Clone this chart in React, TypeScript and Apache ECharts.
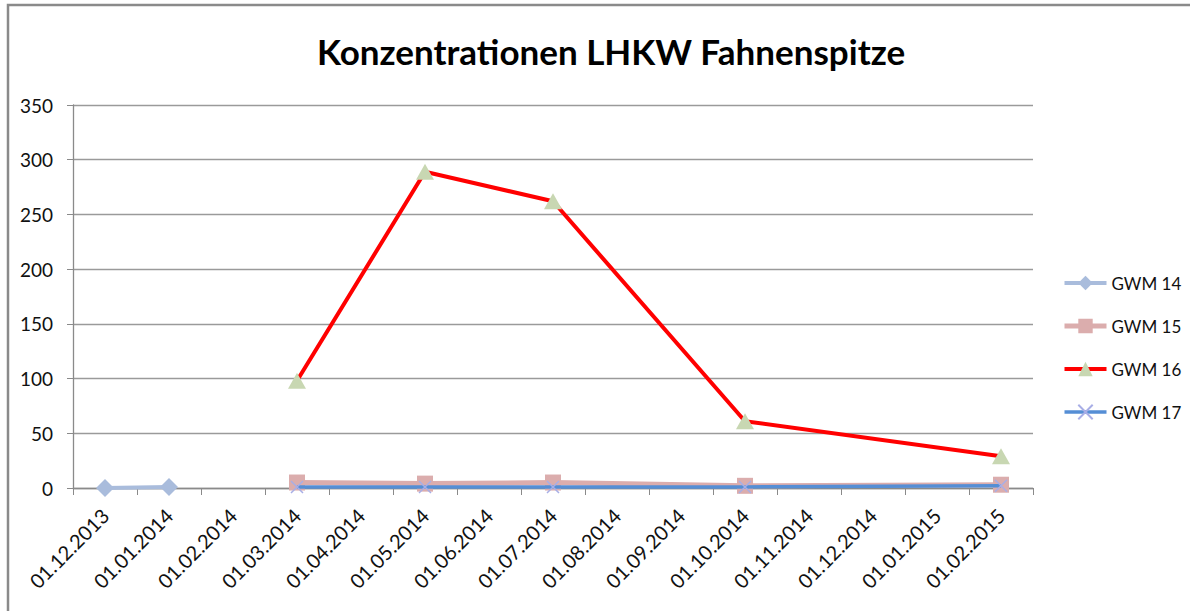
import React, { useEffect, useRef } from "react";
import * as echarts from "echarts";

const categories = [
  "01.12.2013", "01.01.2014", "01.02.2014", "01.03.2014", "01.04.2014",
  "01.05.2014", "01.06.2014", "01.07.2014", "01.08.2014", "01.09.2014",
  "01.10.2014", "01.11.2014", "01.12.2014", "01.01.2015", "01.02.2015",
];
const gwm14 = [0, 1, null, null, null, null, null, null, null, null, null, null, null, null, null];
const gwm15 = [null, null, null, 5, null, 4, null, 5, null, null, 2, null, null, null, 3];
const gwm16 = [null, null, null, 98, null, 289, null, 262, null, null, 61, null, null, null, 29];
const gwm17 = [null, null, null, 1, null, 1, null, 1, null, null, 1, null, null, null, 2];
const seriesNames = ["GWM 14", "GWM 15", "GWM 16", "GWM 17"];
const titleText = "Konzentrationen LHKW Fahnenspitze";

const FONT = "Lato, 'Open Sans', sans-serif";

export default function App() {
  const ref = useRef<HTMLDivElement>(null);
  useEffect(() => {
    if (!ref.current) return;
    const chart = echarts.init(ref.current, undefined, { renderer: "svg" });
    const option: any = {
      animation: false,
      backgroundColor: "#ffffff",
      textStyle: { fontFamily: FONT },
      title: {
        text: titleText,
        left: 312,
        top: 28,
        textStyle: { fontFamily: FONT, fontSize: 35, fontWeight: "bold", color: "#000" },
      },
      graphic: [
        {
          type: "rect",
          shape: { x: 8, y: 5, width: 1200, height: 700 },
          style: { fill: "none", stroke: "#8a8a8a", lineWidth: 2.5 },
          silent: true,
          z: -1,
        },
      ],
      legend: {
        orient: "vertical",
        left: 1062,
        top: 274,
        padding: 0,
        itemWidth: 42,
        itemHeight: 18,
        itemGap: 25,
        data: [
          { name: seriesNames[0], lineStyle: { width: 4 } },
          { name: seriesNames[1], lineStyle: { width: 5 } },
          { name: seriesNames[2], lineStyle: { width: 4 } },
          { name: seriesNames[3], lineStyle: { width: 3.5 } },
        ],
        textStyle: { fontFamily: FONT, fontSize: 17, lineHeight: 18, color: "#111" },
      },
      grid: { left: 73, right: 157, top: 105, bottom: 123, containLabel: false },
      xAxis: {
        type: "category",
        data: categories,
        boundaryGap: true,
        axisLine: { lineStyle: { color: "#8a8a8a", width: 1.3 } },
        axisTick: { show: true, interval: 0, length: 7, lineStyle: { color: "#8a8a8a" } },
        axisLabel: {
          interval: 0,
          rotate: 45,
          fontFamily: FONT,
          fontSize: 20,
          color: "#111",
          margin: 24,
        },
      },
      yAxis: {
        type: "value",
        min: 0,
        max: 350,
        interval: 50,
        axisLine: { show: true, lineStyle: { color: "#8a8a8a", width: 1.3 } },
        axisTick: { show: true, length: 6, lineStyle: { color: "#8a8a8a" } },
        axisLabel: { fontFamily: FONT, fontSize: 19, color: "#111", margin: 20 },
        splitLine: { lineStyle: { color: "#9a9a9a", width: 1.3 } },
      },
      series: [
        {
          name: seriesNames[0],
          type: "line",
          data: gwm14,
          connectNulls: true,
          symbol: "diamond",
          symbolSize: [18, 18],
          lineStyle: { color: "#A9BCDC", width: 4 },
          itemStyle: { color: "#A9BCDC" },
          z: 2,
        },
        {
          name: seriesNames[1],
          type: "line",
          data: gwm15,
          connectNulls: true,
          symbol: "rect",
          symbolSize: 16,
          lineStyle: { color: "#DBADAD", width: 5 },
          itemStyle: { color: "#DBADAD" },
          z: 3,
        },
        {
          name: seriesNames[2],
          type: "line",
          data: gwm16,
          connectNulls: true,
          symbol: "triangle",
          symbolSize: [18, 16],
          lineStyle: { color: "#FF0000", width: 4 },
          itemStyle: { color: "#C8D7B2" },
          z: 4,
        },
        {
          name: seriesNames[3],
          type: "line",
          data: gwm17,
          connectNulls: true,
          symbol: "path://M0,0 L10,10 M10,0 L0,10",
          symbolSize: 12,
          lineStyle: { color: "#558ED5", width: 3.5 },
          itemStyle: { color: "rgba(0,0,0,0)", borderColor: "#A8AEE6", borderWidth: 1.5 },
          z: 5,
        },
      ],
    };
    chart.setOption(option);
    return () => chart.dispose();
  }, []);
  return (
    <div
      ref={ref}
      style={{ position: "fixed", left: 0, top: 0, width: 1190, height: 611 }}
    />
  );
}
